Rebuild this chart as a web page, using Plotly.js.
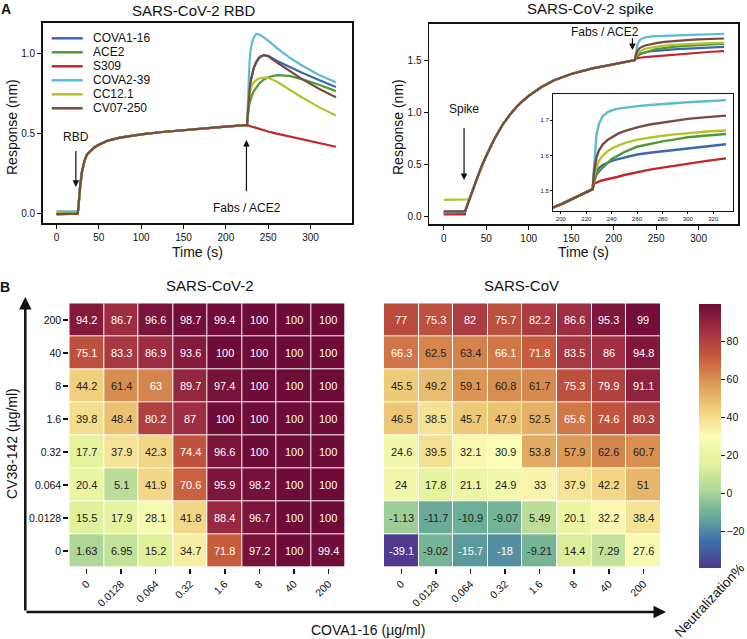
<!DOCTYPE html>
<html>
<head>
<meta charset="utf-8">
<script src="https://cdn.plot.ly/plotly-3.0.1.min.js"></script>
<style>
  html, body { margin: 0; padding: 0; background: #fff; }
  #chart { width: 747px; height: 639px; }
</style>
</head>
<body>
<div id="chart"></div>
<script>
// ---- series (panel A) ----
const seriesNames = ['COVA1-16', 'ACE2', 'S309', 'COVA2-39', 'CC12.1', 'CV07-250'];
const seriesColors = ['#3a68b0', '#4e9a34', '#c2272d', '#5bbbd3', '#b5c32a', '#7a4a40'];

// SARS-CoV-2 RBD sensorgram
const rbdBaseTime = [0, 24.8];
const rbdBase = [0.0, 0.0, -0.004, 0.015, 0.003, -0.002];
const rbdLoadTime = [25, 26, 27, 28, 30, 33, 36, 40, 45, 50, 60, 75, 100, 125, 150, 175, 200, 225];
const rbdLoad = [0.0, 0.05, 0.12, 0.18, 0.26, 0.33, 0.37, 0.39, 0.415, 0.43, 0.455, 0.475, 0.495, 0.51, 0.522, 0.533, 0.543, 0.553];
const rbdDissTime = [226, 227, 228, 229, 231, 233, 236, 240, 245, 250, 260, 275, 290, 310, 330];
const rbdCova116 = [0.65, 0.72, 0.77, 0.82, 0.87, 0.91, 0.945, 0.975, 0.99, 0.985, 0.955, 0.915, 0.88, 0.835, 0.79];
const rbdAce2 = [0.62, 0.66, 0.69, 0.71, 0.74, 0.765, 0.79, 0.815, 0.838, 0.852, 0.865, 0.86, 0.84, 0.805, 0.765];
const rbdS309 = [0.552, 0.55, 0.548, 0.546, 0.543, 0.54, 0.535, 0.528, 0.52, 0.513, 0.5, 0.482, 0.465, 0.442, 0.418];
const rbdCova239 = [0.72, 0.85, 0.95, 1.01, 1.07, 1.1, 1.122, 1.118, 1.1, 1.08, 1.035, 0.975, 0.925, 0.865, 0.82];
const rbdCc121 = [0.65, 0.71, 0.75, 0.775, 0.805, 0.82, 0.835, 0.845, 0.85, 0.848, 0.825, 0.775, 0.725, 0.665, 0.613];
const rbdCv07250 = [0.65, 0.72, 0.77, 0.82, 0.87, 0.91, 0.95, 0.98, 0.99, 0.982, 0.945, 0.89, 0.84, 0.78, 0.727];

// SARS-CoV-2 spike sensorgram
const spikeBaseTime = [0, 24.8];
const spikeBase = [0.03, 0.04, 0.015, 0.035, 0.155, 0.045];
const spikeLoadTime = [25, 27, 30, 35, 40, 45, 50, 55, 60, 65, 70, 80, 90, 100, 115, 130, 150, 175, 200, 225];
const spikeLoad = [0.04, 0.09, 0.16, 0.27, 0.38, 0.49, 0.58, 0.67, 0.75, 0.82, 0.89, 1.0, 1.09, 1.16, 1.245, 1.31, 1.37, 1.425, 1.462, 1.505];
const spikeDissTime = [226, 227, 228, 230, 233, 237, 240, 245, 250, 260, 270, 280, 290, 300, 315, 330];
const spikeCova116 = [1.53, 1.545, 1.555, 1.565, 1.573, 1.58, 1.585, 1.59, 1.595, 1.603, 1.608, 1.612, 1.617, 1.622, 1.627, 1.632];
const spikeAce2 = [1.525, 1.535, 1.545, 1.555, 1.567, 1.58, 1.59, 1.6, 1.61, 1.625, 1.633, 1.64, 1.646, 1.652, 1.657, 1.661];
const spikeS309 = [1.52, 1.522, 1.524, 1.527, 1.53, 1.533, 1.535, 1.54, 1.545, 1.553, 1.56, 1.566, 1.572, 1.578, 1.585, 1.592];
const spikeCova239 = [1.56, 1.62, 1.66, 1.69, 1.712, 1.723, 1.728, 1.733, 1.736, 1.74, 1.743, 1.746, 1.749, 1.751, 1.754, 1.757];
const spikeCc121 = [1.54, 1.555, 1.567, 1.585, 1.6, 1.613, 1.62, 1.628, 1.635, 1.645, 1.651, 1.656, 1.66, 1.664, 1.668, 1.671];
const spikeCv07250 = [1.55, 1.575, 1.595, 1.615, 1.632, 1.645, 1.652, 1.662, 1.669, 1.68, 1.688, 1.694, 1.699, 1.704, 1.709, 1.713];

// ---- heatmaps (panel B), rows listed from top (200) to bottom (0) ----
const concLabels = ['0', '0.0128', '0.064', '0.32', '1.6', '8', '40', '200'];
const sars2Rows = [
    [94.2, 86.7, 96.6, 98.7, 99.4, 100, 100, 100],
    [75.1, 83.3, 86.9, 93.6, 100, 100, 100, 100],
    [44.2, 61.4, 63, 89.7, 97.4, 100, 100, 100],
    [39.8, 48.4, 80.2, 87, 100, 100, 100, 100],
    [17.7, 37.9, 42.3, 74.4, 96.6, 100, 100, 100],
    [20.4, 5.1, 41.9, 70.6, 95.9, 98.2, 100, 100],
    [15.5, 17.9, 28.1, 41.8, 88.4, 96.7, 100, 100],
    [1.63, 6.95, 15.2, 34.7, 71.8, 97.2, 100, 99.4]
];
const sars1Rows = [
    [77, 75.3, 82, 75.7, 82.2, 86.6, 95.3, 99],
    [66.3, 62.5, 63.4, 66.1, 71.8, 83.5, 86, 94.8],
    [45.5, 49.2, 59.1, 60.8, 61.7, 75.3, 79.9, 91.1],
    [46.5, 38.5, 45.7, 47.9, 52.5, 65.6, 74.6, 80.3],
    [24.6, 39.5, 32.1, 30.9, 53.8, 57.9, 62.6, 60.7],
    [24, 17.8, 21.1, 24.9, 33, 37.9, 42.2, 51],
    [-1.13, -11.7, -10.9, -9.07, 5.49, 20.1, 32.2, 38.4],
    [-39.1, -9.02, -15.7, -18, -9.21, 14.4, 7.29, 27.6]
];
const colorTicks = [-20, 0, 20, 40, 60, 80];

// =============================================================================
const W = 747, H = 639;
const px = v => v / W;
const py = v => 1 - v / H;
const FONT = 'Liberation Sans, Arial, Helvetica, sans-serif';
const INK = '#111';

const rbdDiss = [rbdCova116, rbdAce2, rbdS309, rbdCova239, rbdCc121, rbdCv07250];
const spikeDiss = [spikeCova116, spikeAce2, spikeS309, spikeCova239, spikeCc121, spikeCv07250];

const traces = [];

seriesNames.forEach((name, i) => {
    const x = rbdBaseTime.concat(rbdLoadTime, rbdDissTime);
    const y = [rbdBase[i], rbdBase[i]].concat(rbdLoad, rbdDiss[i]);
    traces.push({
        type: 'scatter', mode: 'lines', name: name, x: x, y: y,
        xaxis: 'x', yaxis: 'y',
        line: { color: seriesColors[i], width: 2.2 }, hoverinfo: 'skip'
    });
});

// spike curves: main panel and inset
const spikeX = spikeBaseTime.concat(spikeLoadTime, spikeDissTime);
const spikeY = seriesNames.map((name, i) =>
    [spikeBase[i], spikeBase[i]].concat(spikeLoad.map(v => Math.max(v, spikeBase[i])), spikeDiss[i]));

seriesNames.forEach((name, i) => {
    traces.push({
        type: 'scatter', mode: 'lines', name: name, x: spikeX, y: spikeY[i],
        xaxis: 'x2', yaxis: 'y2',
        line: { color: seriesColors[i], width: 2.2 }, hoverinfo: 'skip'
    });
});
seriesNames.forEach((name, i) => {
    traces.push({
        type: 'scatter', mode: 'lines', name: name, x: spikeX, y: spikeY[i],
        xaxis: 'x3', yaxis: 'y3',
        line: { color: seriesColors[i], width: 2.4 }, hoverinfo: 'skip'
    });
});

// heatmaps
const sars2Z = sars2Rows.slice().reverse();
const sars1Z = sars1Rows.slice().reverse();
traces.push({
    type: 'heatmap', x: concLabels, y: concLabels, z: sars2Z,
    xaxis: 'x4', yaxis: 'y4', coloraxis: 'coloraxis', xgap: 1, ygap: 1, hoverinfo: 'skip'
});
traces.push({
    type: 'heatmap', x: concLabels, y: concLabels, z: sars1Z,
    xaxis: 'x5', yaxis: 'y5', coloraxis: 'coloraxis', xgap: 1, ygap: 1, hoverinfo: 'skip'
});

// ---- axes ----
const lineAxis = {
    showline: true, mirror: true, linewidth: 1.8, linecolor: INK,
    ticks: 'outside', ticklen: 4, tickwidth: 1, tickcolor: INK,
    showgrid: false, zeroline: false, tickfont: { size: 10, color: INK }
};
const heatAxis = {
    type: 'category', showline: false, showgrid: false, zeroline: false,
    ticks: 'outside', ticklen: 5, tickwidth: 1.5, tickcolor: INK,
    tickfont: { size: 10.5, color: INK }, range: [-0.5, 7.5]
};

const annotations = [];
const shapes = [];

function label(text, x, y, size, extra) {
    annotations.push(Object.assign({
        xref: 'paper', yref: 'paper', x: px(x), y: py(y), text: text, showarrow: false,
        xanchor: 'center', yanchor: 'middle', font: { size: size, color: INK }
    }, extra || {}));
}

// panel letters and titles
label('<b>A</b>', 6, 9, 14);
label('<b>B</b>', 5, 287, 14);
label('SARS-CoV-2 RBD', 194, 10, 15);
label('SARS-CoV-2 spike', 590, 9, 15);
label('SARS-CoV-2', 210, 285, 15);
label('SARS-CoV', 521, 285, 15);

// axis titles
label('Time (s)', 197, 252, 14);
label('Time (s)', 583, 252, 14);
label('Response (nm)', 12, 127, 14, { textangle: -90 });
label('Response (nm)', 398, 127, 14, { textangle: -90 });
label('CV38-142 (µg/ml)', 12, 444, 14, { textangle: -90 });
label('COVA1-16 (µg/ml)', 368, 630, 14);
label('Neutralization%', 709, 600, 13.5, { textangle: -47 });

// arrows pointing at injection steps
function stepArrow(xr, yr, x, yHead, yTail) {
    annotations.push({
        xref: xr, yref: yr, axref: xr, ayref: yr, x: x, y: yHead, ax: x, ay: yTail,
        text: '', showarrow: true, arrowhead: 2, arrowsize: 1.1, arrowwidth: 1.2, arrowcolor: INK
    });
}
stepArrow('x', 'y', 22.8, 0.167, 0.40);
stepArrow('x', 'y', 224.3, 0.46, 0.131);
stepArrow('x2', 'y2', 23.9, 0.347, 0.862);
stepArrow('x2', 'y2', 222.1, 1.602, 1.731);
annotations.push({ xref: 'x', yref: 'y', x: 23.1, y: 0.48, text: 'RBD', showarrow: false, font: { size: 12, color: INK } });
annotations.push({ xref: 'x', yref: 'y', x: 225.3, y: 0.034, text: 'Fabs / ACE2', showarrow: false, font: { size: 12, color: INK } });
annotations.push({ xref: 'x2', yref: 'y2', x: 23.9, y: 1.03, text: 'Spike', showarrow: false, font: { size: 12, color: INK } });
annotations.push({ xref: 'x2', yref: 'y2', x: 190, y: 1.773, text: 'Fabs / ACE2', showarrow: false, font: { size: 12, color: INK } });

// big axis arrows of panel B
annotations.push({
    xref: 'paper', yref: 'paper', x: px(25.3), y: py(297), ax: 0, ay: 315, text: '',
    showarrow: true, arrowhead: 2, arrowsize: 1, arrowwidth: 2.5, arrowcolor: INK
});
annotations.push({
    xref: 'paper', yref: 'paper', x: px(666), y: py(612), ax: -641, ay: 0, text: '',
    showarrow: true, arrowhead: 2, arrowsize: 1, arrowwidth: 2.5, arrowcolor: INK
});

// legend drawn by hand so the rows stay tight
seriesNames.forEach((name, i) => {
    const yy = 38.3 + 14 * i;
    shapes.push({
        type: 'line', xref: 'paper', yref: 'paper', x0: px(51.7), x1: px(82.7), y0: py(yy), y1: py(yy),
        line: { color: seriesColors[i], width: 2.5 }, layer: 'above'
    });
    label(name, 90.7, yy, 12, { xanchor: 'left' });
});

// heatmap cell values (category axes: positions by index)
function cellText(rows, xr, yr) {
    rows.forEach((row, r) => {
        const yIdx = concLabels.length - 1 - r;
        row.forEach((v, c) => {
            const light = v > 62.9 && v !== 63.4 || v < -13;
            annotations.push({
                xref: xr, yref: yr, x: c, y: yIdx, text: String(v), showarrow: false,
                font: { size: 11, color: light ? '#ffffff' : '#222222' }
            });
        });
    });
}
cellText(sars2Rows, 'x4', 'y4');
cellText(sars1Rows, 'x5', 'y5');

const layout = {
    width: W, height: H,
    margin: { l: 0, r: 0, t: 0, b: 0 },
    paper_bgcolor: '#ffffff', plot_bgcolor: '#ffffff',
    font: { family: FONT, color: INK },
    showlegend: false,
    xaxis: Object.assign({}, lineAxis, { domain: [px(43), px(352)], range: [-16, 349], anchor: 'y', tickvals: [0, 50, 100, 150, 200, 250, 300] }),
    yaxis: Object.assign({}, lineAxis, { domain: [py(223), py(23)], range: [-0.058, 1.19], anchor: 'x', tickvals: [0, 0.5, 1], tickformat: '.1f' }),
    xaxis2: Object.assign({}, lineAxis, { domain: [px(429.3), px(737.7)], range: [-17, 346], anchor: 'y2', tickvals: [0, 50, 100, 150, 200, 250, 300] }),
    yaxis2: Object.assign({}, lineAxis, { domain: [py(224), py(24)], range: [-0.077, 1.853], anchor: 'x2', tickvals: [0, 0.5, 1, 1.5], tickformat: '.1f' }),
    xaxis3: Object.assign({}, lineAxis, {
        domain: [px(553.3), px(732.7)], range: [194, 335.3], anchor: 'y3',
        tickvals: [200, 220, 240, 260, 280, 300, 320], linewidth: 1.2, ticklen: 2, tickfont: { size: 6, color: INK }
    }),
    yaxis3: Object.assign({}, lineAxis, {
        domain: [py(211), py(94.3)], range: [1.443, 1.7735], anchor: 'x3',
        tickvals: [1.5, 1.6, 1.7], tickformat: '.1f', linewidth: 1.2, ticklen: 2, tickfont: { size: 6, color: INK }
    }),
    xaxis4: Object.assign({}, heatAxis, { domain: [px(69.3), px(345.7)], anchor: 'y4', tickangle: -45 }),
    yaxis4: Object.assign({}, heatAxis, { domain: [py(567.7), py(303.3)], anchor: 'x4' }),
    xaxis5: Object.assign({}, heatAxis, { domain: [px(384), px(660.7)], anchor: 'y5', tickangle: -45 }),
    yaxis5: Object.assign({}, heatAxis, { domain: [py(567.7), py(303.3)], anchor: 'x5', showticklabels: false, ticks: '' }),
    coloraxis: {
        cmin: -39.1, cmax: 100,
        colorscale: [
            [0, '#4e3a8e'], [0.1, '#3d6fab'], [0.2, '#6aad97'], [0.3, '#b3d998'],
            [0.4, '#e4f29b'], [0.5, '#fafcb6'], [0.6, '#f0cf7c'], [0.7, '#dc9a56'],
            [0.8, '#c65a3c'], [0.9, '#a02f43'], [1, '#6e0b37']
        ],
        colorbar: {
            x: px(699), xanchor: 'left', xpad: 0,
            y: py(567.7), yanchor: 'bottom', ypad: 0,
            len: 264.4 / H, lenmode: 'fraction', thickness: 22, thicknessmode: 'pixels',
            outlinewidth: 0, ticks: 'outside', ticklen: 4, tickwidth: 1.5, tickcolor: INK,
            tickvals: colorTicks, tickfont: { size: 10.5, color: INK }
        }
    },
    annotations: annotations,
    shapes: shapes
};

Plotly.newPlot('chart', traces, layout, { staticPlot: true, displayModeBar: false });
</script>
</body>
</html>
